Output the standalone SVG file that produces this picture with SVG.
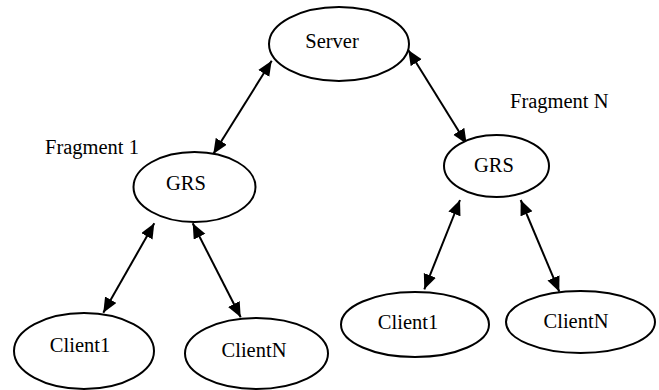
<svg xmlns="http://www.w3.org/2000/svg" width="659" height="390" viewBox="0 0 659 390">
<style>
.n{fill:#fff;stroke:#000;stroke-width:2}
.t{font-family:"Liberation Serif","Times New Roman",serif;font-size:20.5px;fill:#000}
.c{text-anchor:middle}
.e{stroke:#000;stroke-width:2;fill:none;marker-start:url(#ah);marker-end:url(#ah)}
</style>
<defs>
<marker id="ah" markerUnits="userSpaceOnUse" markerWidth="16" markerHeight="14" refX="15" refY="6.5" orient="auto-start-reverse" viewBox="0 0 16 14">
<path d="M0,0 L15,6.5 L0,13 Z" fill="#000"/>
</marker>
</defs>
<rect width="659" height="390" fill="#fff"/>
<g id="connectors">
<line class="e" x1="271.7" y1="60.7" x2="213.3" y2="154"/>
<line class="e" x1="408.3" y1="50" x2="466.7" y2="144"/>
<line class="e" x1="154.3" y1="223.3" x2="103.3" y2="312.7"/>
<line class="e" x1="192.7" y1="223.3" x2="240.7" y2="317.3"/>
<line class="e" x1="460" y1="200" x2="424.3" y2="289.3"/>
<line class="e" x1="520.7" y1="200" x2="559.3" y2="291.7"/>
</g>
<g id="server">
<ellipse class="n" cx="339" cy="44" rx="70" ry="37"/>
<text class="t c" x="332" y="47.5">Server</text>
</g>
<g id="grs1">
<ellipse class="n" cx="194.5" cy="187" rx="61" ry="35"/>
<text class="t c" x="186" y="189.5">GRS</text>
</g>
<g id="grsN">
<ellipse class="n" cx="496.5" cy="166" rx="52.5" ry="31"/>
<text class="t c" x="494" y="172">GRS</text>
</g>
<g id="client1-1">
<ellipse class="n" cx="84" cy="351" rx="70" ry="38"/>
<text class="t c" x="80" y="352">Client1</text>
</g>
<g id="clientN-1">
<ellipse class="n" cx="256.5" cy="353.5" rx="71.5" ry="35.5"/>
<text class="t c" x="254" y="357">ClientN</text>
</g>
<g id="client1-N">
<ellipse class="n" cx="415" cy="324.5" rx="74" ry="32.5"/>
<text class="t c" x="408" y="329">Client1</text>
</g>
<g id="clientN-N">
<ellipse class="n" cx="580.5" cy="322" rx="74.5" ry="31"/>
<text class="t c" x="576" y="328">ClientN</text>
</g>
<g id="labels">
<text class="t" x="45" y="154">Fragment 1</text>
<text class="t" x="510" y="108">Fragment N</text>
</g>
</svg>
